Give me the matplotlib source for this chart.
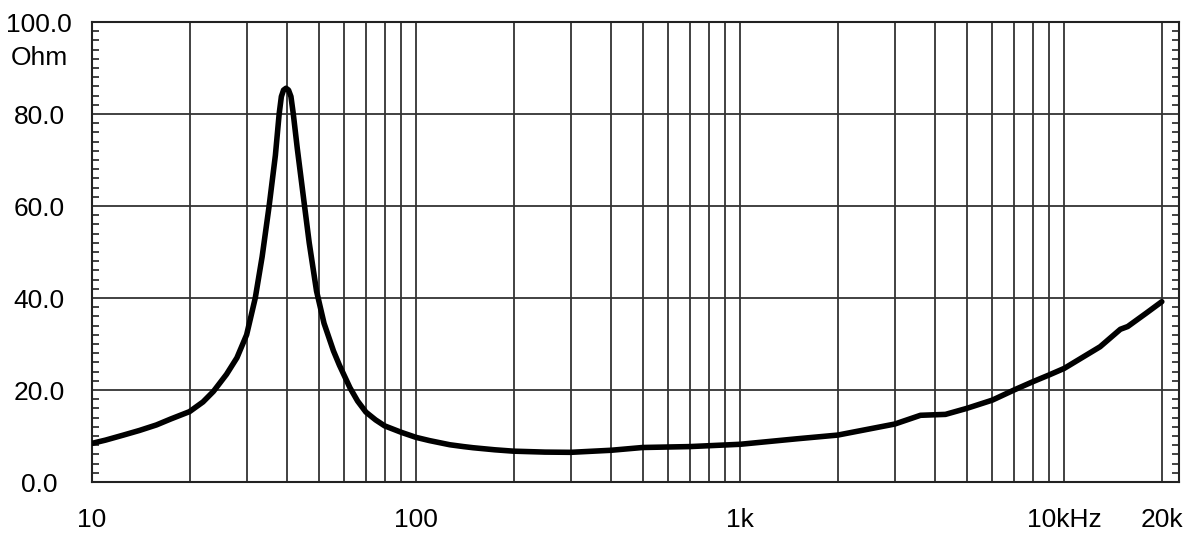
import matplotlib.pyplot as plt
import numpy as np
from matplotlib.ticker import LogLocator, MultipleLocator, NullFormatter

plt.rcParams['font.family'] = ['Liberation Sans', 'DejaVu Sans']

# impedance curve (Hz, Ohm)
freq = [10, 11, 12.5, 14, 15.8, 17.5, 20, 22, 23.7, 26, 28, 30, 31.9, 33.5,
        35.2, 36.8, 37.8, 38.4, 39.0, 39.7, 40.4, 41.1, 41.8, 43.0, 44.9,
        46.8, 49.3, 52, 55.6, 58, 62.5, 66, 70, 75, 80, 90, 100, 110, 127, 140,
        150, 175, 200, 250, 300, 400, 500, 700, 1000, 1500, 2000, 3000, 3600,
        4300, 5000, 6000, 7000, 8000, 9000, 10000, 12900, 14900, 15700, 17900,
        20000]
imp = [8.4, 9.1, 10.2, 11.2, 12.4, 13.7, 15.3, 17.4, 19.7, 23.4, 27.0, 32.0, 40.0, 49.0,
       60.0, 71.0, 80.0, 83.8, 85.2, 85.6, 85.2, 83.8, 80.0, 72.5, 62.0,
       52.0, 41.5, 34.5, 28.5, 25.4, 20.5, 17.6, 15.2, 13.5, 12.2, 10.8, 9.7, 9.0, 8.1, 7.7,
       7.45, 7.0, 6.7, 6.5, 6.45, 6.9, 7.5, 7.7, 8.2, 9.4, 10.2, 12.6, 14.5,
       14.7, 16.0, 17.8, 20.0, 21.8, 23.3, 24.7, 29.4, 33.2, 33.8, 36.7,
       39.2]

x_ticks = [10, 100, 1000, 10000, 20000]
x_labels = ['10', '100', '1k', '10kHz', '20k']
y_ticks = [0, 20, 40, 60, 80, 100]
y_labels = ['0.0', '20.0', '40.0', '60.0', '80.0', '100.0']

fig = plt.figure(figsize=(12, 5.45), dpi=100)
ax = fig.add_axes([92 / 1200, 1 - 482 / 545, (1179 - 92) / 1200, (482 - 22) / 545])

ax.plot(freq, imp, color='black', lw=4, solid_capstyle='round',
        solid_joinstyle='round', zorder=3)

ax.set_xscale('log')
ax.set_xlim(10, 22600)
ax.set_ylim(0, 100)

ax.set_xticks(x_ticks)
ax.set_xticklabels(x_labels, fontsize=19)
ax.xaxis.set_minor_locator(LogLocator(base=10, subs=np.arange(2, 10)))
ax.xaxis.set_minor_formatter(NullFormatter())
ax.tick_params(axis='x', which='both', length=0, pad=19)

ax.set_yticks(y_ticks)
ax.set_yticklabels(y_labels, fontsize=19)
ax.yaxis.set_minor_locator(MultipleLocator(2))
ax.tick_params(axis='y', which='major', length=0, pad=38)
ax.tick_params(axis='y', which='minor', direction='in', length=5, width=1.2,
               color='#222222', left=True, right=True)
for lab in ax.get_yticklabels():
    lab.set_horizontalalignment('center')

ax.grid(True, which='both', axis='x', color='#333333', lw=1.3)
ax.grid(True, which='major', axis='y', color='#333333', lw=1.3)
for s in ax.spines.values():
    s.set_color('#222222')
    s.set_linewidth(1.5)

fig.text(39 / 1200, 1 - 58 / 545, 'Ohm', ha='center', va='center', fontsize=19)

fig.savefig('out.png', dpi=100)
